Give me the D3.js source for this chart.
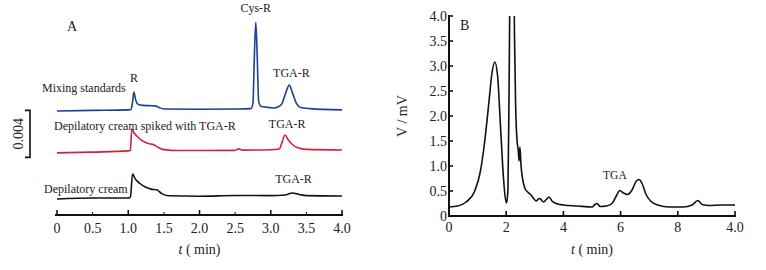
<!DOCTYPE html>
<html>
<head>
<meta charset="utf-8">
<script src="https://cdn.jsdelivr.net/npm/d3@7"></script>
<style>
  body { margin: 0; background: #fff; }
</style>
</head>
<body>
<div id="chart"></div>
<script>
// Panel A: time (min) vs signal (mAU, traces stacked with their own baselines)
const timeTicksA = [0, 0.5, 1.0, 1.5, 2.0, 2.5, 3.0, 3.5, 4.0];
const tickLabelsA = ['0', '0.5', '1.0', '1.5', '2.0', '2.5', '3.0', '3.5', '4.0'];

const mixingStandards = [
  [0, 8.85], [0.5, 8.9], [1.0, 8.94], [1.04, 8.98], [1.06, 9.6], [1.08, 10.45], [1.1, 9.9],
  [1.13, 9.45], [1.2, 9.32], [1.3, 9.3], [1.38, 9.28], [1.43, 9.15], [1.5, 9.02],
  [2.0, 9.0], [2.5, 9.02], [2.72, 9.05], [2.75, 9.5], [2.77, 13.5], [2.79, 16.4],
  [2.81, 13.5], [2.83, 9.7], [2.86, 9.25], [2.9, 9.2], [3.05, 9.1], [3.15, 9.4],
  [3.2, 10.2], [3.26, 11.05], [3.31, 10.3], [3.36, 9.5], [3.42, 9.15], [3.55, 9.05], [4.0, 8.94]
];
const spikedCream = [
  [0, 5.28], [0.5, 5.35], [1.0, 5.45], [1.03, 5.5], [1.05, 7.32], [1.08, 7.0],
  [1.13, 6.65], [1.2, 6.3], [1.28, 6.08], [1.35, 6.0], [1.42, 5.75], [1.5, 5.56],
  [1.7, 5.48], [2.0, 5.48], [2.5, 5.5], [2.55, 5.62], [2.6, 5.52], [3.0, 5.55],
  [3.12, 5.62], [3.16, 6.2], [3.2, 6.81], [3.24, 6.45], [3.3, 6.02], [3.38, 5.72],
  [3.5, 5.58], [4.0, 5.53]
];
const plainCream = [
  [0, 1.36], [0.5, 1.45], [1.0, 1.45], [1.03, 1.5], [1.06, 3.49], [1.1, 3.05],
  [1.16, 2.7], [1.24, 2.38], [1.32, 2.2], [1.4, 2.15], [1.47, 1.82], [1.56, 1.64],
  [2.0, 1.6], [2.5, 1.66], [3.0, 1.65], [3.2, 1.7], [3.3, 1.87], [3.4, 1.75],
  [3.5, 1.65], [4.0, 1.62]
];
const traceNamesA = ['Mixing standards', 'Depilatory cream spiked with TGA-R', 'Depilatory cream'];
const peakLabelsA = [
  { text: 'R', t: 1.08, v: 11.3 },
  { text: 'Cys-R', t: 2.79, v: 17.25 },
  { text: 'TGA-R', t: 3.29, v: 11.75 },
  { text: 'TGA-R', t: 3.23, v: 7.4 },
  { text: 'TGA-R', t: 3.32, v: 2.75 }
];

// Panel B: time vs voltage (mV)
const timeTicksB = [0, 2, 4, 6, 8, 10];
const tickLabelsB = ['0', '2', '4', '6', '8', '4.0'];
const voltTicksB = [0, 0.5, 1.0, 1.5, 2.0, 2.5, 3.0, 3.5, 4.0];
const voltLabelsB = ['0', '0.5', '1.0', '1.5', '2.0', '2.5', '3.0', '3.5', '4.0'];
const sampleTrace = [
  [0, 0.18], [0.3, 0.2], [0.6, 0.28], [0.9, 0.5], [1.1, 0.9], [1.25, 1.5], [1.4, 2.3],
  [1.5, 2.85], [1.6, 3.08], [1.7, 2.8], [1.8, 1.8], [1.9, 0.8], [1.96, 0.4], [2.01, 0.26],
  [2.06, 0.5], [2.1, 2.5], [2.15, 6], [2.2, 8], [2.25, 6], [2.29, 3.6], [2.33, 2.2],
  [2.38, 1.5], [2.42, 1.32], [2.45, 1.1], [2.48, 1.38], [2.52, 1.0], [2.58, 0.72],
  [2.65, 0.56], [2.75, 0.48], [2.85, 0.43], [2.95, 0.36], [3.05, 0.3], [3.15, 0.35],
  [3.22, 0.33], [3.3, 0.28], [3.4, 0.33], [3.5, 0.38], [3.6, 0.3], [3.75, 0.25],
  [4.0, 0.22], [4.5, 0.2], [5.0, 0.18], [5.1, 0.23], [5.18, 0.25], [5.28, 0.19],
  [5.5, 0.2], [5.7, 0.25], [5.85, 0.4], [5.97, 0.51], [6.1, 0.46], [6.25, 0.43],
  [6.4, 0.52], [6.55, 0.7], [6.65, 0.73], [6.75, 0.65], [6.9, 0.42], [7.05, 0.3],
  [7.3, 0.22], [7.7, 0.18], [8.2, 0.18], [8.5, 0.22], [8.7, 0.31], [8.85, 0.23],
  [9.1, 0.21], [9.5, 0.22], [10, 0.22]
];

const W = 766, H = 270;
const svg = d3.select('#chart').append('svg').attr('width', W).attr('height', H)
  .attr('font-family', '"Liberation Serif", "Times New Roman", "DejaVu Serif", serif')
  .attr('fill', '#222');

// ---------- Panel A ----------
const xA = d3.scaleLinear().domain([0, 4]).range([57, 342]);
const yA = d3.scaleLinear().domain([0, 16.5]).range([215, 21]);
const lineA = d3.line().x(d => xA(d[0])).y(d => yA(d[1])).curve(d3.curveMonotoneX);

const gA = svg.append('g');
gA.append('line').attr('x1', 55).attr('x2', 343).attr('y1', 215).attr('y2', 215)
  .attr('stroke', '#111').attr('stroke-width', 2);
timeTicksA.forEach((t, i) => {
  const major = (i % 2 === 0);
  gA.append('line').attr('x1', xA(t)).attr('x2', xA(t))
    .attr('y1', 215).attr('y2', major ? 210 : 212)
    .attr('stroke', '#111').attr('stroke-width', major ? 1.6 : 1);
  gA.append('text').attr('x', xA(t)).attr('y', 233).attr('text-anchor', 'middle')
    .style('font-size', '14px').text(tickLabelsA[i]);
});
const titleA = gA.append('text').attr('x', xA(2)).attr('y', 254).attr('text-anchor', 'middle')
  .style('font-size', '14px');
titleA.append('tspan').style('font-style', 'italic').text('t');
titleA.append('tspan').text(' ( min)');

// scale bar 0.004
const barTop = yA(8.9), barBot = yA(4.9);
gA.append('path')
  .attr('d', `M25,${barTop}H30V${barBot}H25`)
  .attr('fill', 'none').attr('stroke', '#111').attr('stroke-width', 1.6);
gA.append('text').attr('transform', `translate(23,${(barTop + barBot) / 2}) rotate(-90)`)
  .attr('text-anchor', 'middle').style('font-size', '14px').text('0.004');

const tracesA = [
  { data: mixingStandards, color: '#1c3f94' },
  { data: spikedCream, color: '#d6213c' },
  { data: plainCream, color: '#111' }
];
tracesA.forEach(tr => {
  gA.append('path').datum(tr.data).attr('d', lineA)
    .attr('fill', 'none').attr('stroke', tr.color).attr('stroke-width', 1.6);
});

gA.append('text').attr('x', 42).attr('y', 92).style('font-size', '12px').text(traceNamesA[0]);
gA.append('text').attr('x', 54).attr('y', 130).style('font-size', '12px').text(traceNamesA[1]);
gA.append('text').attr('x', 44).attr('y', 193).style('font-size', '12px').text(traceNamesA[2]);
peakLabelsA.forEach(p => {
  gA.append('text').attr('x', xA(p.t)).attr('y', yA(p.v)).attr('text-anchor', 'middle')
    .style('font-size', '12px').text(p.text);
});
gA.append('text').attr('x', 67).attr('y', 31).style('font-size', '14px').text('A');

// ---------- Panel B ----------
const xB = d3.scaleLinear().domain([0, 10]).range([449, 735]);
const yB = d3.scaleLinear().domain([0, 4]).range([216, 16]);

const gB = svg.append('g');
svg.append('defs').append('clipPath').attr('id', 'clipB')
  .append('rect').attr('x', 449).attr('y', 16).attr('width', 290).attr('height', 200);

const lineB = d3.line().x(d => xB(d[0])).y(d => yB(d[1])).curve(d3.curveMonotoneX);
gB.append('path').datum(sampleTrace).attr('d', lineB).attr('clip-path', 'url(#clipB)')
  .attr('fill', 'none').attr('stroke', '#111').attr('stroke-width', 1.6);

gB.append('line').attr('x1', 449).attr('x2', 449).attr('y1', 15).attr('y2', 217)
  .attr('stroke', '#111').attr('stroke-width', 2);
gB.append('line').attr('x1', 448).attr('x2', 736).attr('y1', 216).attr('y2', 216)
  .attr('stroke', '#111').attr('stroke-width', 2);

voltTicksB.forEach((v, i) => {
  gB.append('line').attr('x1', 449).attr('x2', 453).attr('y1', yB(v)).attr('y2', yB(v))
    .attr('stroke', '#111').attr('stroke-width', 1.6);
  gB.append('text').attr('x', 447).attr('y', yB(v) + 5).attr('text-anchor', 'end')
    .style('font-size', '14px').text(voltLabelsB[i]);
});
timeTicksB.forEach((t, i) => {
  gB.append('line').attr('x1', xB(t)).attr('x2', xB(t)).attr('y1', 216).attr('y2', 211)
    .attr('stroke', '#111').attr('stroke-width', 1.6);
  gB.append('text').attr('x', xB(t)).attr('y', 232).attr('text-anchor', 'middle')
    .style('font-size', '14px').text(tickLabelsB[i]);
});
const titleB = gB.append('text').attr('x', 592).attr('y', 254).attr('text-anchor', 'middle')
  .style('font-size', '14px');
titleB.append('tspan').style('font-style', 'italic').text('t');
titleB.append('tspan').text(' ( min)');

gB.append('text').attr('transform', 'translate(407,116) rotate(-90)')
  .attr('text-anchor', 'middle').style('font-size', '14px').text('V / mV');
gB.append('text').attr('x', 460).attr('y', 30).style('font-size', '14px').text('B');
gB.append('text').attr('x', xB(5.8)).attr('y', yB(0.74)).attr('text-anchor', 'middle')
  .style('font-size', '11.5px').text('TGA');
</script>
</body>
</html>
